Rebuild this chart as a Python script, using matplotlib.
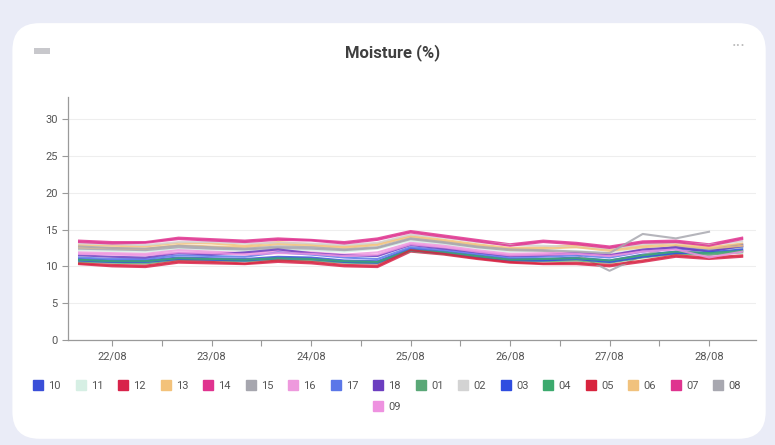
import numpy as np
import pandas as pd
import matplotlib
matplotlib.use("Agg")
import matplotlib.pyplot as plt
import matplotlib.dates as mdates
from matplotlib.patches import FancyBboxPatch, Rectangle
from matplotlib.lines import Line2D

plt.rcParams['font.family'] = ['Roboto', 'DejaVu Sans']

# Horarios de las lecturas (cada 8 horas)
tiempos = ["2023-08-21 16:00", "2023-08-22 00:00", "2023-08-22 08:00", "2023-08-22 16:00",
           "2023-08-23 00:00", "2023-08-23 08:00", "2023-08-23 16:00", "2023-08-24 00:00",
           "2023-08-24 08:00", "2023-08-24 16:00", "2023-08-25 00:00", "2023-08-25 08:00",
           "2023-08-25 16:00", "2023-08-26 00:00", "2023-08-26 08:00", "2023-08-26 16:00",
           "2023-08-27 00:00", "2023-08-27 08:00", "2023-08-27 16:00", "2023-08-28 00:00",
           "2023-08-28 08:00"]

sensores = ["10", "11", "12", "13", "14", "15", "16", "17", "18",
            "01", "02", "03", "04", "05", "06", "07", "08", "09"]

colores = {
    "10": "#3a4fd8", "11": "#d6efe4", "12": "#d8234a", "13": "#f3c27a",
    "14": "#e0338f", "15": "#a6a6ae", "16": "#ee99dd", "17": "#5b77e8",
    "18": "#6c3ec0", "01": "#5aa877", "02": "#d3d3d3", "03": "#2f4de0",
    "04": "#3caa6e", "05": "#d8243e", "06": "#f1c27d", "07": "#df338f",
    "08": "#a8a8b0", "09": "#ee92e0",
}

s10 = [11.0, 10.8, 10.8, 11.2, 11.1, 11.0, 11.3, 11.2, 10.8, 10.7, 12.4, 12.0, 11.5, 11.0, 11.0, 11.2, 10.8, 11.6, 12.0, 12.3, 13.0]
s11 = [12.2, 12.1, 12.0, 12.4, 12.3, 12.1, 12.3, 12.2, 12.0, 12.4, 13.5, 13.0, 12.5, 12.0, 12.2, 12.1, 11.8, 12.4, 12.7, 12.2, 12.5]
s12 = [10.3, 10.0, 9.9, 10.5, 10.4, 10.3, 10.6, 10.4, 10.0, 9.9, 12.0, 11.6, 11.0, 10.5, 10.3, 10.3, 10.0, 10.6, 11.3, 11.0, 11.3]
s13 = [12.9, 12.8, 12.7, 13.2, 13.1, 12.8, 13.3, 13.0, 12.7, 13.1, 14.2, 13.6, 13.0, 12.5, 12.6, 12.9, 12.3, 12.8, 13.2, 12.6, 13.1]
s14 = [13.5, 13.3, 13.3, 13.9, 13.7, 13.5, 13.8, 13.6, 13.3, 13.8, 14.8, 14.2, 13.6, 13.0, 13.5, 13.2, 12.7, 13.4, 13.5, 13.0, 13.9]
s15 = [12.4, 12.3, 12.2, 12.6, 12.4, 12.3, 12.5, 12.4, 12.2, 12.5, 13.7, 13.2, 12.6, 12.2, 12.1, 11.6, 9.4, 11.5, 12.8, 12.3, 12.6]
s16 = [11.9, 11.8, 11.7, 12.2, 12.0, 11.8, 12.1, 11.9, 11.6, 11.9, 13.2, 12.8, 12.2, 11.7, 11.8, 11.9, 11.6, 12.2, 12.5, 11.5, 12.2]
s17 = [11.2, 11.0, 11.0, 11.5, 11.4, 11.3, 11.9, 11.6, 11.2, 11.0, 12.6, 12.2, 11.7, 11.2, 11.3, 11.5, 11.2, 12.0, 12.4, 12.2, 12.7]
s18 = [11.5, 11.3, 11.2, 11.8, 11.6, 11.9, 12.3, 11.8, 11.5, 11.4, 12.9, 12.4, 11.9, 11.4, 11.5, 11.8, 11.5, 12.3, 12.6, 12.0, 12.8]
s01 = [10.6, 10.5, 10.4, 10.9, 10.8, 10.7, 10.9, 10.8, 10.5, 10.4, 12.1, 11.7, 11.2, 10.8, 10.7, 10.8, 10.5, 11.2, 11.7, 11.6, 11.9]
s02 = [13.1, 13.0, 12.9, 13.3, 13.3, 13.1, 13.2, 13.1, 12.9, 13.2, 14.3, 13.9, 13.3, 12.9, 12.8, 12.6, 12.4, 13.0, 13.2, 12.9, 13.4]
s03 = [10.8, 10.6, 10.6, 11.0, 10.9, 10.8, 11.1, 11.0, 10.6, 10.5, 12.2, 11.8, 11.3, 10.8, 10.8, 11.0, 10.6, 11.3, 11.8, 11.9, 12.3]
s04 = [10.9, 10.7, 10.7, 11.1, 11.0, 10.9, 11.1, 11.0, 10.7, 10.6, 12.2, 11.9, 11.4, 10.9, 11.0, 11.1, 10.8, 11.5, 12.0, 11.8, 12.1]
s05 = [10.4, 10.2, 10.1, 10.7, 10.6, 10.4, 10.8, 10.6, 10.2, 10.1, 12.2, 11.7, 11.1, 10.6, 10.4, 10.5, 10.2, 10.8, 11.5, 11.2, 11.5]
s06 = [12.6, 12.5, 12.4, 12.9, 12.7, 12.6, 13.0, 12.8, 12.5, 12.9, 14.0, 13.4, 12.8, 12.3, 12.4, 12.6, 12.1, 12.6, 12.9, 12.4, 12.8]
s07 = [13.3, 13.1, 13.2, 13.7, 13.5, 13.3, 13.6, 13.5, 13.1, 13.6, 14.6, 14.0, 13.4, 12.8, 13.3, 13.0, 12.5, 13.2, 13.3, 12.8, 13.7]
s08 = [12.7, 12.5, 12.4, 12.8, 12.6, 12.4, 12.7, 12.6, 12.3, 12.6, 13.8, 13.3, 12.7, 12.3, 12.2, 12.0, 11.8, 14.4, 13.8, 14.7, np.nan]
s09 = [11.7, 11.6, 11.5, 11.9, 11.8, 11.6, 11.8, 11.7, 11.4, 11.6, 13.0, 12.6, 12.0, 11.5, 11.6, 11.7, 11.4, 12.0, 12.3, 11.2, 12.0]

valores = {"10": s10, "11": s11, "12": s12, "13": s13, "14": s14, "15": s15,
           "16": s16, "17": s17, "18": s18, "01": s01, "02": s02, "03": s03,
           "04": s04, "05": s05, "06": s06, "07": s07, "08": s08, "09": s09}

x = pd.to_datetime(tiempos)

fig = plt.figure(figsize=(7.75, 4.45), dpi=100)
fig.patch.set_facecolor("#eaecf7")

# Tarjeta blanca (detras de todo)
tarjeta = FancyBboxPatch((0.016, 0.014), 0.972, 0.934,
                         boxstyle="round,pad=0,rounding_size=0.035",
                         transform=fig.transFigure, facecolor="white",
                         edgecolor="none", mutation_aspect=775 / 445, zorder=-10)
fig.patches.append(tarjeta)

fig.text(0.507, 0.883, "Moisture (%)", ha="center", va="center",
         fontsize=12, fontweight="bold", color="#3f3f3f")
fig.patches.append(Rectangle((34 / 775, 1 - 54 / 445), 16 / 775, 6 / 445,
                             transform=fig.transFigure, facecolor="#c8c8cc",
                             edgecolor="none", zorder=-5))
fig.text(0.953, 0.895, "···", ha="center", va="center", fontsize=13, color="#bbbbbb")

ax = fig.add_axes([68 / 775, 1 - 340 / 445, (756 - 68) / 775, (340 - 97) / 445])
ax.set_facecolor("none")
ax.set_zorder(5)

for s in sensores:
    ax.plot(x, valores[s], color=colores[s], lw=1.5, alpha=0.85)

ax.set_ylim(0, 33)
ax.set_yticks(range(0, 31, 5))
ax.set_xlim(pd.Timestamp("2023-08-21 13:20"), pd.Timestamp("2023-08-28 11:20"))
ax.xaxis.set_major_locator(mdates.DayLocator())
ax.xaxis.set_major_formatter(mdates.DateFormatter("%d/%m"))
ax.xaxis.set_minor_locator(mdates.HourLocator(byhour=[12]))

ax.grid(axis="y", color="#eeeeee", lw=0.8)
ax.set_axisbelow(True)
for lado in ["top", "right"]:
    ax.spines[lado].set_visible(False)
for lado in ["left", "bottom"]:
    ax.spines[lado].set_color("#9a9a9a")
    ax.spines[lado].set_linewidth(0.9)
ax.tick_params(axis="both", which="both", colors="#9a9a9a", labelcolor="#555555",
               labelsize=8, length=4, width=0.8)
ax.tick_params(axis="x", pad=4)

# Leyenda en dos filas
fila1 = sensores[:17]
h1 = [Line2D([], [], marker="s", ls="none", markersize=7, color=colores[s]) for s in fila1]
fig.legend(h1, fila1, loc="center", bbox_to_anchor=(0.5, 1 - 386 / 445),
           ncol=17, frameon=False, fontsize=8, handlelength=0.8,
           handletextpad=0.5, columnspacing=1.4, labelcolor="#555555")
h2 = [Line2D([], [], marker="s", ls="none", markersize=7, color=colores["09"])]
fig.legend(h2, ["09"], loc="center", bbox_to_anchor=(0.5, 1 - 407 / 445),
           frameon=False, fontsize=8, handlelength=0.8, handletextpad=0.5,
           labelcolor="#555555")

fig.savefig("out.png", dpi=100, facecolor=fig.get_facecolor())
